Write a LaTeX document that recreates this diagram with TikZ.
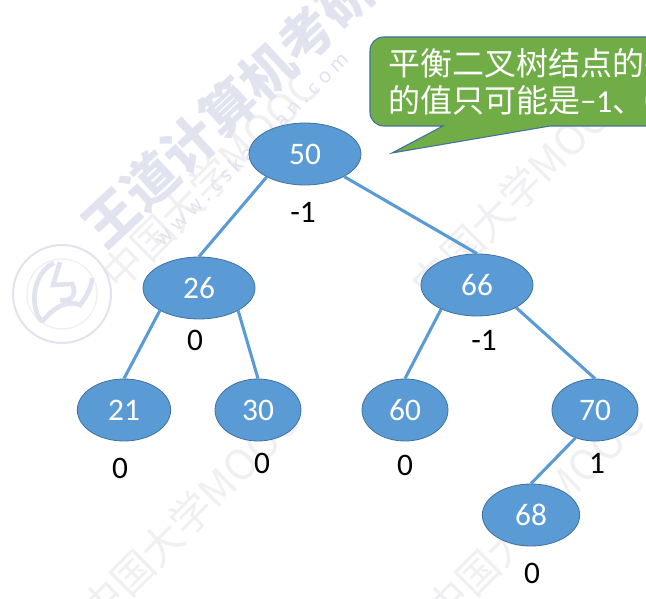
\documentclass[tikz,border=0pt]{standalone}
\usepackage{fontspec}
\setmainfont{Carlito}
\newfontfamily\cjk{Noto Sans CJK SC}
\definecolor{nodeblue}{HTML}{5B9BD5}
\definecolor{nodeedge}{HTML}{41719C}
\definecolor{calloutgreen}{HTML}{70AD47}
\definecolor{wmstrong}{HTML}{E1E3EF}
\definecolor{wmfaint}{HTML}{F0F0F3}
\usetikzlibrary{shapes.geometric}
\tikzset{
  treenode/.style={ellipse,draw=nodeedge,fill=nodeblue,line width=0.6pt,text=white,inner sep=0pt,minimum height=46.5pt,font=\fontsize{23.5}{25}\selectfont},
  balance/.style={text=black,inner sep=0pt,font=\fontsize{23.5}{25}\selectfont},
  treeedge/.style={draw=nodeblue,line width=2.3pt},
  wmark/.style={text=wmstrong,rotate=43,inner sep=0pt,font=\cjk\bfseries\fontsize{40}{42}\selectfont},
  wmooc/.style={text=wmfaint,rotate=45,inner sep=0pt,font=\cjk\fontsize{31}{33}\selectfont},
  wurl/.style={text=wmstrong,rotate=45,inner sep=0pt,font=\fontsize{17}{19}\selectfont},
  calloutstyle/.style={fill=calloutgreen,draw=nodeedge,line width=0.8pt},
  callouttext/.style={text=white,anchor=west,inner sep=0pt,font=\cjk\fontsize{24}{26}\selectfont}
}
\begin{document}
\begin{tikzpicture}[x=0.75pt,y=-0.75pt]
\path[use as bounding box] (0,0) rectangle (646,599);
\clip (0,0) rectangle (646,599);
\fill[white] (0,0) rectangle (646,599);
% watermarks
\node[wmooc] (wm3) at (210,180) {中国大学MOOC};
\node[wmooc] (wm4) at (520,190) {中国大学MOOC};
\node[wmooc] (wm5) at (190,515) {中国大学MOOC};
\node[wmooc] (wm6) at (535,515) {中国大学MOOC};
\node[wmark] (wm1) at (228,108) {王道计算机考研};
\node[wurl] (wm2) at (252,150) {w w w . c s k a o y a n . c o m};
\draw[wmstrong,line width=1.5pt] (62,294) circle (49);
\draw[wmfaint,line width=1pt] (62,294) circle (35);
\draw[wmstrong,line width=3.5pt] (54,263) .. controls (34,272) and (28,305) .. (42,322);
\draw[wmstrong,line width=3.5pt] (42,322) .. controls (55,305) and (70,300) .. (80,305) .. controls (88,295) and (92,285) .. (92,278);
\draw[wmstrong,line width=3.5pt] (60,262) -- (53,285) -- (72,284) .. controls (78,295) and (70,302) .. (60,300);
% callout
\draw[calloutstyle] (384,37) -- (700,37) -- (700,126) -- (550,126) -- (392,153) -- (443,126) -- (384,126)
  .. controls (376,126) and (370,120) .. (370,112) -- (370,51) .. controls (370,43) and (376,37) .. (384,37) -- cycle;
\node[callouttext] (c1) at (388,63) {平衡二叉树结点的平衡因子};
\node[callouttext] (c2) at (388,100) {的值只可能是{\normalfont −1}、0或1};
% tree
\node[treenode,minimum width=84pt] (n50) at (305,154) {50};
\node[treenode,minimum width=84pt] (n26) at (199,288) {26};
\node[treenode,minimum width=84pt] (n66) at (477,285) {66};
\node[treenode,minimum width=70pt] (n21) at (124,410) {21};
\node[treenode,minimum width=64.5pt] (n30) at (258,410) {30};
\node[treenode,minimum width=64.5pt] (n60) at (405,410) {60};
\node[treenode,minimum width=64.5pt] (n70) at (595,410) {70};
\node[treenode,minimum width=73pt] (n68) at (531,515) {68};
\draw[treeedge] (n50.211) -- (n26.north);
\draw[treeedge] (n50.-30) -- (n66.north);
\draw[treeedge] (n26.-150) -- (n21.north);
\draw[treeedge] (n26.-30) -- (n30.north);
\draw[treeedge] (n66.-146) -- (n60.north);
\draw[treeedge] (n66.-30) -- (n70.north);
\draw[treeedge] (n70.-125) -- (n68.north);
\node[balance] (b50) at (303,212) {-1};
\node[balance] (b26) at (195,340) {0};
\node[balance] (b66) at (484,340) {-1};
\node[balance] (b21) at (120,468) {0};
\node[balance] (b30) at (262,463) {0};
\node[balance] (b60) at (405,465) {0};
\node[balance] (b70) at (597,463) {1};
\node[balance] (b68) at (532,573) {0};
\end{tikzpicture}
\end{document}
